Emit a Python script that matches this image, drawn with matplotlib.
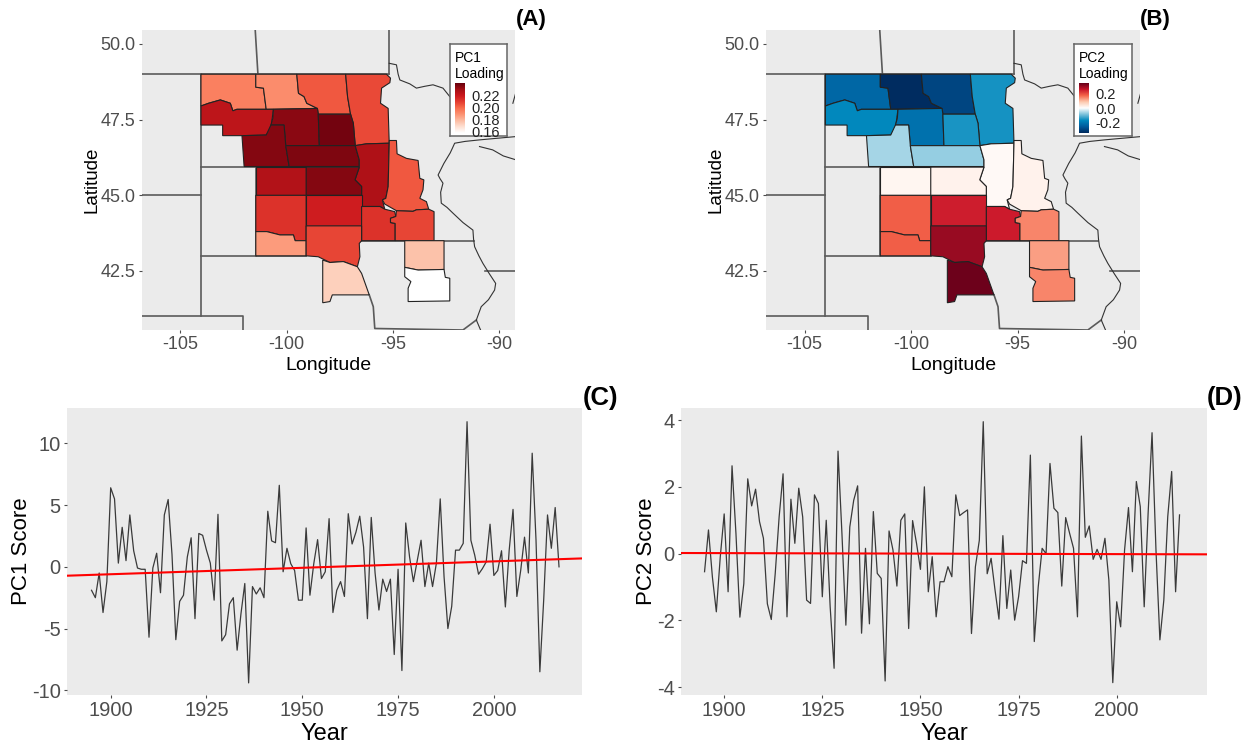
import numpy as np
import matplotlib
matplotlib.use("Agg")
import matplotlib.pyplot as plt
from matplotlib.colors import LinearSegmentedColormap, Normalize
from matplotlib.patches import Polygon

plt.rcParams['font.family'] = ['Liberation Sans', 'DejaVu Sans']
plt.rcParams['axes.unicode_minus'] = False

# ---------------------------------------------
# regions, read off the maps as lon/lat
regions = [
    [(-104.03,49.0),(-101.45,49.0),(-101.45,48.57),(-101.09,48.54),(-100.96,47.84),(-102.34,47.84),(-102.53,47.79),(-102.65,48.04),(-103.12,48.15),(-103.67,48.04),(-104.03,47.95)],
    [(-101.45,49.0),(-99.52,49.0),(-99.44,48.37),(-99.18,48.26),(-99.05,48.04),(-98.55,47.87),(-100.96,47.84),(-101.09,48.54),(-101.45,48.57)],
    [(-99.52,49.0),(-97.22,49.0),(-97.13,48.26),(-96.99,47.68),(-98.51,47.68),(-98.55,47.87),(-99.05,48.04),(-99.18,48.26),(-99.44,48.37)],
    [(-97.22,49.0),(-95.30,49.0),(-95.11,48.87),(-95.14,48.72),(-95.53,48.54),(-95.58,48.04),(-95.22,47.87),(-95.17,46.72),(-96.24,46.70),(-96.77,46.64),(-96.86,47.38),(-96.99,47.68),(-97.13,48.26)],
    [(-104.03,47.95),(-103.67,48.04),(-103.12,48.15),(-102.65,48.04),(-102.53,47.79),(-102.34,47.84),(-100.62,47.84),(-100.74,47.21),(-100.96,46.99),(-102.10,46.97),(-103.01,46.97),(-103.01,47.32),(-104.03,47.32)],
    [(-100.62,47.84),(-98.55,47.87),(-98.51,47.68),(-98.46,46.64),(-100.04,46.64),(-100.12,47.32),(-100.74,47.32),(-100.65,47.54)],
    [(-98.51,47.68),(-96.99,47.68),(-96.86,47.38),(-96.77,46.64),(-98.46,46.64)],
    [(-102.10,46.97),(-100.96,46.99),(-100.74,47.32),(-100.12,47.32),(-100.04,46.64),(-99.88,45.95),(-102.0,45.95)],
    [(-100.04,46.64),(-96.77,46.64),(-96.58,46.17),(-96.58,45.95),(-99.88,45.95)],
    [(-96.77,46.64),(-96.24,46.70),(-95.17,46.72),(-95.22,45.29),(-95.33,44.90),(-95.49,44.85),(-95.38,44.54),(-95.61,44.63),(-96.47,44.63),(-96.47,45.29),(-96.78,45.51),(-96.58,45.93),(-96.58,46.17)],
    [(-95.17,46.81),(-94.83,46.81),(-94.80,46.37),(-94.36,46.22),(-93.81,46.15),(-93.73,45.56),(-93.54,45.51),(-93.58,45.18),(-93.73,44.90),(-93.42,44.79),(-93.31,44.54),(-93.89,44.52),(-94.05,44.47),(-94.83,44.49),(-95.38,44.71),(-95.49,44.85),(-95.33,44.90),(-95.22,45.29),(-95.17,46.72)],
    [(-101.45,45.95),(-99.08,45.95),(-99.08,45.0),(-101.45,45.0)],
    [(-99.08,45.93),(-96.58,45.93),(-96.78,45.51),(-96.47,45.29),(-96.47,45.0),(-99.08,45.0)],
    [(-101.45,45.0),(-99.08,45.0),(-99.08,43.50),(-99.60,43.50),(-99.68,43.69),(-100.31,43.69),(-100.93,43.80),(-101.45,43.80)],
    [(-99.08,45.0),(-96.47,45.0),(-96.47,43.99),(-99.08,43.99)],
    [(-96.47,44.63),(-95.61,44.63),(-95.38,44.54),(-94.91,44.46),(-94.86,44.30),(-95.11,44.24),(-95.11,44.10),(-94.89,44.07),(-94.89,43.50),(-96.47,43.50)],
    [(-94.83,44.49),(-94.05,44.47),(-93.89,44.52),(-93.31,44.54),(-93.06,44.46),(-93.06,43.50),(-94.89,43.50),(-94.89,44.07),(-95.11,44.10),(-95.11,44.24),(-94.86,44.30)],
    [(-101.45,43.80),(-100.93,43.80),(-100.31,43.69),(-99.68,43.69),(-99.60,43.50),(-99.08,43.50),(-99.08,43.0),(-101.45,43.0)],
    [(-99.08,43.99),(-96.47,43.99),(-96.47,43.50),(-96.58,43.41),(-96.55,42.97),(-96.67,42.64),(-97.33,42.81),(-97.96,42.78),(-98.51,42.97),(-99.08,43.0)],
    [(-98.30,42.86),(-97.96,42.78),(-97.33,42.81),(-96.67,42.64),(-96.47,42.42),(-96.11,41.71),(-97.85,41.71),(-97.96,41.49),(-98.30,41.45)],
    [(-94.44,43.50),(-92.59,43.50),(-92.59,42.55),(-93.81,42.53),(-94.44,42.62)],
    [(-94.44,42.62),(-93.81,42.53),(-92.59,42.55),(-92.53,42.29),(-92.32,42.26),(-92.32,41.51),(-94.28,41.49),(-94.28,41.93),(-94.15,42.15),(-94.44,42.31)],
]
pc1_loading = [.194,.191,.204,.207,.224,.235,.239,.236,.237,.228,.204,.227,.236,.213,.219,.213,.208,.187,.208,.173,.177,.158]
pc2_loading = [-.23,-.335,-.29,-.155,-.17,-.21,-.153,-.06,-.07,.01,.02,.015,.02,.177,.245,.248,.143,.177,.296,.333,.122,.143]

# borders of states and provinces
borders = [
    [(-106.9,49.0),(-95.17,49.0)],
    [(-101.48,50.5),(-101.35,49.0)],
    [(-95.17,50.5),(-95.17,49.0)],
    [(-106.9,45.0),(-104.05,45.0)],
    [(-104.05,49.0),(-104.05,41.0)],
    [(-106.9,41.0),(-102.03,41.0),(-102.03,40.5)],
    [(-104.05,45.95),(-101.45,45.95)],
    [(-104.05,43.0),(-99.08,43.0)],
    [(-101.45,45.95),(-101.45,43.0)],
    [(-96.5,43.5),(-91.2,43.5)],
    [(-90.68,42.51),(-89.2,42.51)],
    [(-96.11,41.71),(-95.92,41.32),(-95.85,40.6),(-91.7,40.55),(-91.07,40.88)],
]
rivers = [
    [(-95.17,49.36),(-94.83,49.31),(-94.75,49.0),(-94.67,48.81),(-94.2,48.68),(-93.89,48.54),(-93.5,48.6),(-93.11,48.65),(-92.64,48.54),(-92.32,48.26)],
    [(-89.2,46.94),(-90.3,46.87),(-90.92,46.83),(-91.6,46.78),(-92.09,46.72),(-92.2,46.55),(-92.3,46.4),(-92.6,46.05),(-92.87,45.67),(-92.78,45.55),(-92.64,45.4),(-92.75,45.1),(-92.72,44.74),(-92.45,44.6),(-92.17,44.41),(-91.7,44.1),(-91.23,43.85),(-91.2,43.55),(-91.15,43.30),(-90.95,43.0),(-90.76,42.75),(-90.45,42.4),(-90.16,42.09),(-90.21,41.87),(-90.5,41.55),(-90.84,41.32),(-91.07,40.88),(-90.84,40.5)],
    [(-90.92,46.61),(-90.3,46.5),(-89.8,46.3),(-89.2,46.17)],
    [(-89.2,48.42),(-89.35,48.04)],
]

pc1_ticks = [0.16,0.18,0.20,0.22]
pc2_ticks = [-0.2,0.0,0.2]
reds = ["#ffffff","#fee0d2","#fcbba1","#fc9272","#f86c4c","#e43d30","#cb181d","#a50f15","#67000d"]
rdbu = ["#002a5e","#005a9c","#0088bd","#7fc4dc","#ffffff","#fdc9ae","#f5654a","#c9152a","#67001a"]

# ---------------------------------------------
# series, one value per year from 1895
pc1_score = [-1.9,-2.5,-0.5,-3.7,-1.2,6.4,5.5,0.3,3.2,0.5,4.2,1.3,-0.1,-0.2,-0.2,-5.7,-0.1,1.1,-2.1,4.2,5.45,1.0,-5.9,-2.8,-2.3,0.8,2.35,-4.2,2.7,2.55,1.35,0.3,-2.7,4.25,-6.0,-5.5,-3.0,-2.5,-6.75,-3.8,-1.35,-9.4,-1.6,-2.2,-1.7,-2.5,4.5,2.1,1.95,6.6,-0.4,1.5,0.25,-0.3,-2.7,-2.7,3.15,-2.3,0.25,2.2,-0.95,-0.4,3.9,-3.7,-1.9,-1.2,-2.4,4.3,1.85,2.8,4.1,1.6,-4.2,4.0,-0.5,-3.5,-1.0,-2.0,-1.0,-7.1,-0.2,-8.4,3.55,0.8,-1.2,0.5,2.15,-1.6,0.3,-1.6,0.3,5.5,-0.8,-5.0,-3.2,1.35,1.35,1.9,11.75,2.15,0.95,-0.6,-0.15,0.4,3.45,-0.7,-0.3,1.3,-3.25,1.35,4.65,-2.4,-0.3,2.4,-0.5,9.2,2.15,-8.5,-2.7,4.2,1.5,4.8,0.0]
pc2_score = [-.54,.71,-.7,-1.74,-.1,1.19,-1.14,2.63,.6,-1.9,-.9,2.24,1.43,1.93,.96,.46,-1.5,-1.97,-.6,1.1,2.39,-1.89,1.63,.31,1.96,1.1,-1.39,-1.49,1.76,1.5,-1.29,1.0,-1.59,-3.43,3.07,.6,-2.14,.8,1.6,2.03,-2.38,.16,-2.1,1.26,-.59,-.74,-3.81,.68,.11,-.97,1.0,1.19,-2.24,.99,.31,-.47,2.0,-1.14,-.09,-1.89,-.84,-.84,-.39,-.69,1.76,1.14,1.23,1.31,-2.39,-.39,.4,3.95,-.6,-.14,-1.09,-1.96,.54,-1.64,-.49,-1.99,-1.29,-.21,-.29,2.95,-2.63,-1.0,.16,0.0,2.7,1.36,1.23,-.97,1.08,.61,.16,-1.89,3.52,.49,.83,-.17,.13,-.17,.46,-.79,-3.86,-1.44,-2.19,.11,1.38,-.54,2.16,1.41,-1.59,1.21,3.62,.11,-2.58,-1.39,1.11,2.46,-1.14,1.16]
trend_years = [1888.6,2023]
pc1_trend = [-0.72,0.68]
pc2_trend = [0.02,-0.02]

W, H = 1255, 742
GREY = "#EBEBEB"
TICK = "#4D4D4D"


def px_axes(fig, left, top, right, bottom):
    return fig.add_axes([left/W, 1-bottom/H, (right-left)/W, (bottom-top)/H])


def draw_map(fig, box, values, cmap, norm, title, ticks, tick_fmt, leg_box):
    ax = px_axes(fig, *box)
    ax.set_facecolor(GREY)
    for line in borders:
        xs, ys = zip(*line)
        ax.plot(xs, ys, color="#5a5a5a", lw=1.2, zorder=1)
    for line in rivers:
        xs, ys = zip(*line)
        ax.plot(xs, ys, color="#333333", lw=0.8, zorder=1)
    for reg, v in zip(regions, values):
        ax.add_patch(Polygon(reg, closed=True, facecolor=cmap(norm(v)),
                             edgecolor="#222222", lw=0.8, zorder=2))
    ax.set_xlim(-106.82, -89.25)
    ax.set_ylim(40.55, 50.46)
    ax.set_xticks([-105,-100,-95,-90])
    ax.set_yticks([42.5,45.0,47.5,50.0])
    ax.set_yticklabels(["42.5","45.0","47.5","50.0"])
    ax.tick_params(labelsize=13, colors=TICK, length=2.5, width=0.8, pad=2)
    for s in ax.spines.values():
        s.set_visible(False)
    ax.set_xlabel("Longitude", fontsize=14, labelpad=2.5)
    ax.set_ylabel("Latitude", fontsize=13.5, labelpad=0)

    # legend box
    lx0, ly0, lx1, ly1 = leg_box
    lg = px_axes(fig, lx0, ly0, lx1, ly1)
    lg.set_xlim(lx0, lx1)
    lg.set_ylim(ly1, ly0)
    lg.set_xticks([])
    lg.set_yticks([])
    lg.set_zorder(5)
    for s in lg.spines.values():
        s.set_color("#666666")
        s.set_linewidth(1.1)
    lg.text(lx0+5, ly0+7, title, fontsize=10, va="top", ha="left", linespacing=1.15)
    grad = np.linspace(norm.vmax, norm.vmin, 200).reshape(-1, 1)
    bar_top, bar_bot = ly0+39, ly0+89
    lg.imshow(grad, cmap=cmap, norm=norm, extent=[lx0+4.5, lx0+14, bar_bot, bar_top], aspect="auto")
    lg.set_xlim(lx0, lx1)
    lg.set_ylim(ly1, ly0)
    for t in ticks:
        yy = bar_bot - (t-norm.vmin)/(norm.vmax-norm.vmin)*(bar_bot-bar_top)
        lg.text(lx0+21, yy+1.5, tick_fmt % t, fontsize=10.5, color="#222222", va="center", ha="left", clip_on=False)
    return ax


def draw_series(fig, box, score, trend, xlim, ylim, yticks, ylabel):
    ax = px_axes(fig, *box)
    ax.set_facecolor(GREY)
    years = np.arange(1895, 1895+len(score))
    ax.plot(years, score, color="#3a3a3a", lw=0.9)
    ax.plot(trend_years, trend, color="#ff0000", lw=1.5)
    ax.set_xlim(*xlim)
    ax.set_ylim(*ylim)
    ax.set_xticks([1900,1925,1950,1975,2000])
    ax.set_yticks(yticks)
    ax.tick_params(labelsize=14.5, colors=TICK, length=2.5, width=0.8, pad=2)
    for s in ax.spines.values():
        s.set_visible(False)
    ax.set_xlabel("Year", fontsize=17, labelpad=2)
    ax.set_ylabel(ylabel, fontsize=16, labelpad=0)
    return ax


fig = plt.figure(figsize=(W/100, H/100), dpi=100, facecolor="white")

cm1 = LinearSegmentedColormap.from_list("pc1", reds)
cm2 = LinearSegmentedColormap.from_list("pc2", rdbu)
draw_map(fig, (141.7, 30, 515, 330), pc1_loading, cm1, Normalize(.158, .241),
         "PC1\nLoading", pc1_ticks, "%.2f", (450, 44, 507, 136))
draw_map(fig, (766, 30, 1140, 330), pc2_loading, cm2, Normalize(-.34, .34),
         "PC2\nLoading", pc2_ticks, "%.1f", (1074, 44, 1132, 136))

draw_series(fig, (67, 408, 582, 695), pc1_score, pc1_trend, (1888.6, 2023), (-10.38, 12.86),
            [-10,-5,0,5,10], "PC1 Score")
draw_series(fig, (681, 408, 1207, 695), pc2_score, pc2_trend, (1889, 2023), (-4.23, 4.36),
            [-4,-2,0,2,4], "PC2 Score")

for lab, x, y, fs in [("(A)", 531, 20, 16), ("(B)", 1155, 20, 16), ("(C)", 601, 398, 18.5), ("(D)", 1225, 398, 18.5)]:
    fig.text(x/W, 1-y/H, lab, fontsize=fs, fontweight="bold", ha="center", va="center")

fig.savefig("out.png", dpi=100)
